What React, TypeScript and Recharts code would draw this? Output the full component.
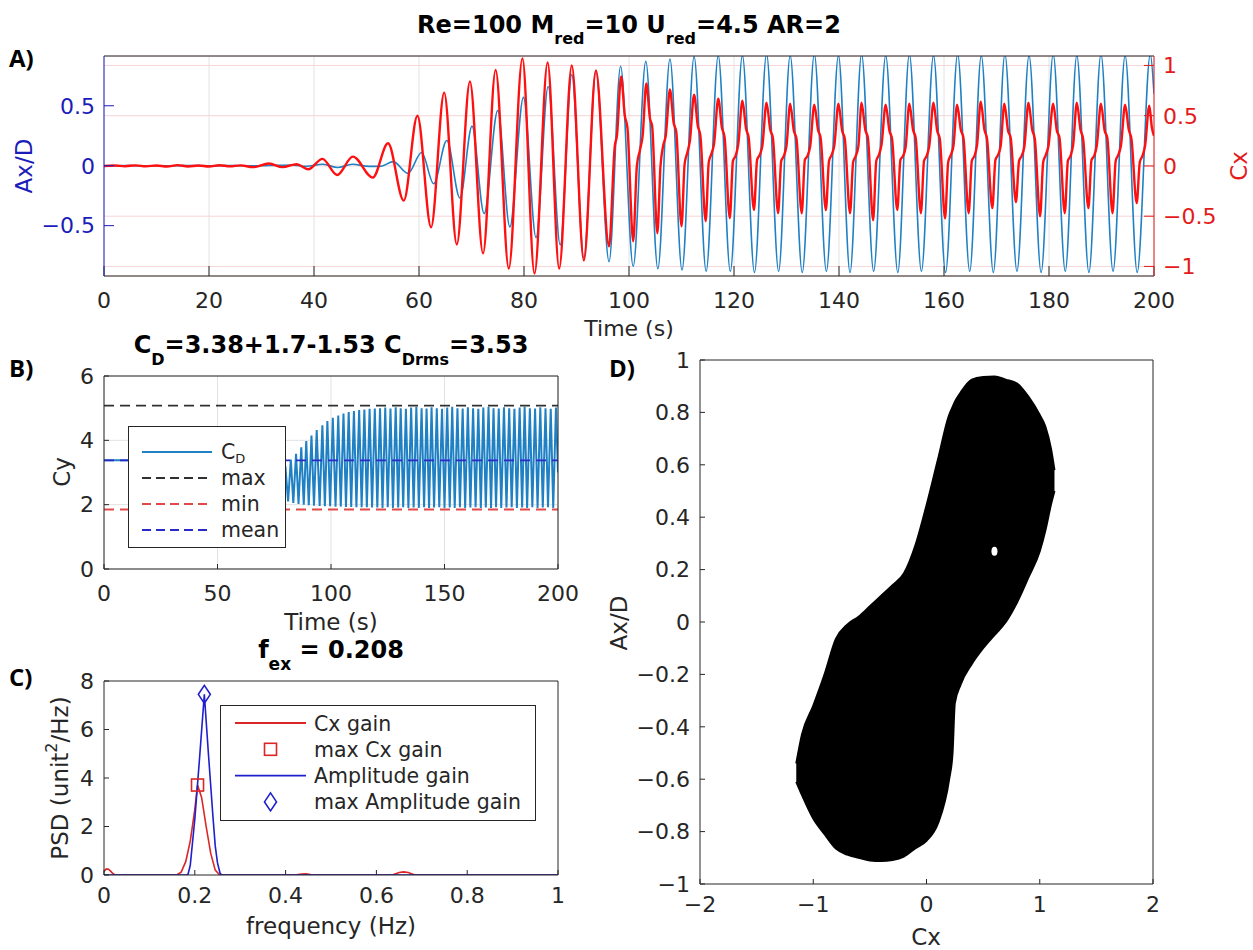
import React from 'react';
import {
  ComposedChart,
  Line,
  Area,
  Scatter,
  XAxis,
  YAxis,
  CartesianGrid,
  Legend,
} from 'recharts';

// ---------------- fonts & colours ----------------
const FONT = '"DejaVu Sans", sans-serif';
const LABEL_FONT = '"Open Sans", "DejaVu Sans", sans-serif';
const INK = '#262626';
const BLUE_LINE = '#1f80c4';
const RED_LINE = '#ff1010';
const AX_BLUE = '#1c1cb8';
const CX_RED = '#e41b1b';
const GRID = '#e2e2e2';
const PINK = '#f6d4d4';
const CX_GAIN = '#dc2626';
const AMP_GAIN = '#1f1fcc';
const MAX_C = '#303030';
const MIN_C = '#e24848';
const MEAN_C = '#2a2ac8';

// ---------------- Panel A data ----------------
const timeTicksA = [0, 20, 40, 60, 80, 100, 120, 140, 160, 180, 200];
const axTicksA = [-0.5, 0, 0.5];
const cxTicksA = [-1, -0.5, 0, 0.5, 1];

// Ax/D (time, value) read at extremes
const axDisplacement: [number, number][] = [
  [0, 0], [5, 0.001], [10, -0.001], [15, 0.001], [20, 0], [25, 0.001], [30, -0.001], [33, 0.003],
  [36, 0.005], [38.5, -0.005], [41.7, 0.012], [44.5, -0.015], [47.3, 0.012], [50.5, -0.006],
  [52.8, -0.004], [55.1, 0.034], [57.9, -0.064], [60.5, 0.11], [62.8, -0.15], [65.3, 0.21],
  [67.8, -0.27], [70.1, 0.33], [72.4, -0.4], [75.0, 0.46], [77.3, -0.51], [79.9, 0.57],
  [82.3, -0.6], [84.6, 0.66], [86.9, -0.66], [89.1, 0.76], [91.4, -0.77], [93.7, 0.79],
  [96.2, -0.8], [98.4, 0.83], [100.8, -0.84], [103.2, 0.87], [105.5, -0.86], [107.8, 0.89],
  [110.1, -0.87], [112.4, 0.91], [114.7, -0.88], [117.0, 0.92], [119.3, -0.88], [121.6, 0.92],
  [123.9, -0.89], [126.2, 0.93], [128.5, -0.88], [130.7, 0.92], [133.0, -0.89], [135.3, 0.93],
  [137.6, -0.88], [139.9, 0.92], [142.1, -0.89], [144.3, 0.93], [146.6, -0.88], [148.9, 0.92],
  [151.2, -0.89], [153.4, 0.93], [155.7, -0.88], [158.0, 0.92], [160.3, -0.89], [162.6, 0.93],
  [164.9, -0.88], [167.1, 0.92], [169.4, -0.89], [171.6, 0.93], [173.9, -0.88], [176.2, 0.92],
  [178.5, -0.89], [180.8, 0.93], [183.1, -0.88], [185.3, 0.92], [187.6, -0.89], [189.9, 0.93],
  [192.2, -0.88], [194.5, 0.92], [196.8, -0.89], [199.3, 0.93], [200, 0.6],
];

// Cx (time, value) read at extremes and shoulders
const cxForce: [number, number][] = [
  [0, 0], [2, 0.004], [4, -0.003], [6, 0.006], [8, -0.004], [10, 0.005], [12, -0.006], [14, 0.008],
  [16, -0.005], [18, 0.004], [20, -0.006], [22, 0.007], [24, -0.004], [26, 0.006], [28.4, -0.012],
  [31.4, 0.025], [34, -0.012], [36.7, 0.017], [38.9, -0.033], [41.6, 0.07], [44.4, -0.09],
  [47.4, 0.093], [51.2, -0.116], [54.1, 0.226], [57.1, -0.345], [59.7, 0.5], [62.3, -0.61],
  [64.8, 0.73], [67.2, -0.78], [69.7, 0.84], [72.2, -0.87], [74.6, 0.955], [77.1, -1.02],
  [79.7, 1.07], [82.0, -1.07], [84.5, 1.03], [86.7, -1.02], [89.1, 1.0], [91.4, -0.94],
  [93.7, 0.95], [96.2, -0.8], [97.3, 0.2], [97.7, 0.3],
  [98.5, 0.89], [99.2, 0.5], [99.7, 0.38], [100.8, -0.75], [101.5, 0.0], [102.1, 0.16], [102.6, 0.3],
  [103.3, 0.82], [104.0, 0.47], [104.4, 0.4], [105.4, -0.67], [106.0, 0.0], [106.5, 0.2], [107.0, 0.3],
  [107.8, 0.76], [108.5, 0.43], [109.0, 0.34], [110.0, -0.6], [110.6, 0.02], [111.1, 0.13], [111.6, 0.25],
  [112.4, 0.71], [113.1, 0.4], [113.6, 0.3], [114.6, -0.55], [115.2, 0.04], [115.7, 0.12], [116.2, 0.22],
  [117.0, 0.67], [117.7, 0.38], [118.2, 0.29], [119.2, -0.52], [119.8, 0.05], [120.3, 0.1], [120.8, 0.21],
  [121.6, 0.65], [122.3, 0.37], [122.8, 0.28], [123.8, -0.44], [124.4, 0.06], [124.9, 0.11], [125.4, 0.2],
  [126.2, 0.63], [126.9, 0.36], [127.4, 0.28], [128.4, -0.47], [129.0, 0.05], [129.5, 0.1], [130.0, 0.2],
  [130.7, 0.62], [131.4, 0.35], [131.9, 0.27], [132.9, -0.47], [133.5, 0.06], [134.0, 0.1], [134.5, 0.19],
  [135.3, 0.61], [136.0, 0.36], [136.5, 0.28], [137.5, -0.44], [138.1, 0.05], [138.6, 0.11], [139.1, 0.2],
  [139.9, 0.62], [140.6, 0.35], [141.1, 0.27], [142.1, -0.47], [142.7, 0.04], [143.2, 0.1], [143.7, 0.2],
  [144.3, 0.63], [145.0, 0.36], [145.5, 0.28], [146.5, -0.54], [147.1, 0.05], [147.6, 0.11], [148.1, 0.21],
  [148.9, 0.61], [149.6, 0.35], [150.1, 0.27], [151.1, -0.44], [151.7, 0.06], [152.2, 0.1], [152.7, 0.19],
  [153.4, 0.62], [154.1, 0.36], [154.6, 0.28], [155.6, -0.47], [156.2, 0.05], [156.7, 0.1], [157.2, 0.2],
  [158.0, 0.63], [158.7, 0.35], [159.2, 0.27], [160.2, -0.52], [160.8, 0.04], [161.3, 0.11], [161.8, 0.2],
  [162.5, 0.61], [163.2, 0.36], [163.7, 0.28], [164.7, -0.47], [165.3, 0.05], [165.8, 0.1], [166.3, 0.21],
  [167.0, 0.64], [167.7, 0.36], [168.2, 0.27], [169.2, -0.42], [169.8, 0.06], [170.3, 0.11], [170.8, 0.2],
  [171.5, 0.62], [172.2, 0.35], [172.7, 0.28], [173.7, -0.36], [174.3, 0.05], [174.8, 0.1], [175.3, 0.19],
  [176.1, 0.63], [176.8, 0.36], [177.3, 0.27], [178.3, -0.5], [178.9, 0.04], [179.4, 0.11], [179.9, 0.2],
  [180.8, 0.62], [181.5, 0.35], [182.0, 0.28], [183.0, -0.47], [183.6, 0.05], [184.1, 0.1], [184.6, 0.21],
  [185.3, 0.63], [186.0, 0.36], [186.5, 0.27], [187.5, -0.42], [188.1, 0.06], [188.6, 0.1], [189.1, 0.2],
  [189.9, 0.62], [190.6, 0.35], [191.1, 0.28], [192.1, -0.47], [192.7, 0.05], [193.2, 0.11], [193.7, 0.2],
  [194.5, 0.61], [195.2, 0.36], [195.7, 0.27], [196.7, -0.37], [197.3, 0.04], [197.8, 0.1], [198.3, 0.2],
  [199.1, 0.6], [199.6, 0.38], [200, 0.3],
];

// ---------------- Panel B data ----------------
const timeTicksB = [0, 50, 100, 150, 200];
const cyTicksB = [0, 2, 4, 6];
const cdMax = 5.08;
const cdMin = 1.85;
const cdMean = 3.38;
const cdSignal: [number, number][] = [
  [0, 3.38], [10, 3.38], [20, 3.37], [30, 3.38], [40, 3.36], [50, 3.3], [55, 3.2], [60, 3.0],
  [65, 2.85], [70, 2.75], [75, 2.7], [78.8, 2.7],
  [79.9, 3.2], [81.1, 2.1], [82.3, 3.4], [83.4, 2.05], [84.6, 3.58], [85.7, 2.02], [86.9, 3.78],
  [88.0, 2.0], [89.1, 3.98], [90.2, 1.98], [91.4, 4.15], [92.5, 1.97], [93.7, 4.32], [95.0, 1.96],
  [96.2, 4.47], [97.3, 1.95], [98.4, 4.6], [99.6, 1.95], [100.8, 4.7], [102.0, 1.94], [103.2, 4.77],
  [104.3, 1.94], [105.5, 4.83], [106.6, 1.93], [107.8, 4.88], [108.9, 1.93], [110.1, 4.91],
  [111.2, 1.92], [112.4, 4.94], [113.5, 1.92], [114.7, 4.96], [115.8, 1.92], [117.0, 4.98],
  [118.1, 1.91], [119.3, 4.99], [120.4, 1.91], [121.6, 5.0], [122.7, 1.9], [123.9, 5.02],
  [125.0, 1.92], [126.2, 4.99], [127.3, 1.9], [128.5, 5.03], [129.6, 1.91], [130.7, 5.0],
  [131.8, 1.92], [133.0, 4.98], [134.1, 1.9], [135.3, 5.02], [136.4, 1.91], [137.6, 5.04],
  [138.7, 1.9], [139.9, 5.0], [141.0, 1.92], [142.1, 4.99], [143.2, 1.9], [144.3, 5.03],
  [145.4, 1.91], [146.6, 5.0], [147.7, 1.92], [148.9, 4.98], [150.0, 1.9], [151.2, 5.02],
  [152.3, 1.91], [153.4, 5.04], [154.5, 1.9], [155.7, 5.0], [156.8, 1.92], [158.0, 4.99],
  [159.1, 1.9], [160.3, 5.03], [161.4, 1.91], [162.6, 5.0], [163.7, 1.92], [164.9, 4.98],
  [166.0, 1.9], [167.1, 5.02], [168.2, 1.91], [169.4, 5.04], [170.5, 1.9], [171.6, 5.0],
  [172.7, 1.92], [173.9, 4.99], [175.0, 1.9], [176.2, 5.03], [177.3, 1.91], [178.5, 5.0],
  [179.6, 1.92], [180.8, 4.98], [181.9, 1.9], [183.1, 5.02], [184.2, 1.91], [185.3, 5.04],
  [186.4, 1.9], [187.6, 5.0], [188.7, 1.92], [189.9, 4.99], [191.0, 1.9], [192.2, 5.03],
  [193.3, 1.91], [194.5, 5.0], [195.6, 1.92], [196.8, 4.98], [197.9, 1.9], [199.1, 5.02], [200, 3.0],
];

// ---------------- Panel C data ----------------
const freqTicks = [0, 0.2, 0.4, 0.6, 0.8, 1];
const psdTicks = [0, 2, 4, 6, 8];
const cxGainPsd: [number, number][] = [
  [0, 0.15], [0.005, 0.25], [0.01, 0.24], [0.015, 0.15], [0.02, 0.05], [0.025, 0], [0.16, 0],
  [0.17, 0.12], [0.18, 0.55], [0.19, 1.4], [0.2, 2.7], [0.206, 3.71], [0.215, 3.2], [0.225, 2.0],
  [0.235, 0.9], [0.245, 0.2], [0.255, 0], [0.42, 0], [0.435, 0.04], [0.445, 0.05], [0.46, 0],
  [0.635, 0], [0.65, 0.1], [0.66, 0.13], [0.67, 0.1], [0.685, 0], [1, 0],
];
const ampGainPsd: [number, number][] = [
  [0, 0], [0.18, 0], [0.185, 0.02], [0.19, 0.4], [0.2, 2.3], [0.21, 4.7], [0.221, 7.45],
  [0.23, 5.0], [0.24, 2.4], [0.245, 1.2], [0.25, 0.5], [0.256, 0.05], [0.26, 0], [1, 0],
];
const maxCxGain: [number, number] = [0.206, 3.71];
const maxAmpGain: [number, number] = [0.221, 7.45];

// ---------------- Panel D data ----------------
const cxTicksD = [-2, -1, 0, 1, 2];
const axTicksD = [-1, -0.8, -0.6, -0.4, -0.2, 0, 0.2, 0.4, 0.6, 0.8, 1];
// phase portrait band: Cx, lowest Ax, highest Ax covered by the markers
const phaseBand: [number, number, number][] = [
  [-1.15, -0.61, -0.54], [-1.1, -0.66, -0.43], [-1.0, -0.75, -0.32], [-0.9, -0.81, -0.2],
  [-0.8, -0.865, -0.065], [-0.7, -0.888, -0.01], [-0.6, -0.9, 0.02], [-0.5, -0.91, 0.06],
  [-0.4, -0.912, 0.1], [-0.3, -0.908, 0.14], [-0.2, -0.895, 0.185], [-0.1, -0.864, 0.29],
  [0, -0.835, 0.445], [0.1, -0.77, 0.618], [0.2, -0.6, 0.79], [0.23, -0.5, 0.82],
  [0.25, -0.31, 0.84], [0.3, -0.24, 0.875], [0.4, -0.16, 0.925], [0.5, -0.1, 0.935],
  [0.6, -0.05, 0.937], [0.7, 0.0, 0.925], [0.8, 0.075, 0.91], [0.9, 0.17, 0.86],
  [1.0, 0.27, 0.79], [1.05, 0.35, 0.745], [1.1, 0.45, 0.66], [1.13, 0.5, 0.58],
];
const phaseGap: [number, number][] = [[0.6, 0.27]];

// ---------------- helpers ----------------
const fmt = (v: number) => String(v).replace('-', '\u2212');
const tickStyle = (fill: string) => ({ fontSize: 22, fill, fontFamily: FONT });

const axData = axDisplacement.map(([t, v]) => ({ t, v }));
const cxData = cxForce.map(([t, v]) => ({ t, v }));
const cdData = cdSignal.map(([t, v]) => ({ t, v }));
const flat = (v: number) => [{ t: 0, v }, { t: 200, v }];
const cxPsdData = cxGainPsd.map(([f, p]) => ({ f, p }));
const ampPsdData = ampGainPsd.map(([f, p]) => ({ f, p }));
const bandData = phaseBand.map(([cx, lo, hi]) => ({ cx, range: [lo, hi] }));
const gapData = phaseGap.map(([cx, ax]) => ({ cx, ax }));

const cdLegendItems = [
  { key: 'cd', label: 'C', sub: 'D', color: BLUE_LINE, dash: undefined as string | undefined },
  { key: 'max', label: 'max', sub: '', color: MAX_C, dash: '9 5' },
  { key: 'min', label: 'min', sub: '', color: MIN_C, dash: '9 5' },
  { key: 'mean', label: 'mean', sub: '', color: MEAN_C, dash: '9 5' },
];

const psdLegendItems = [
  { key: 'cxg', label: 'Cx gain', color: CX_GAIN, kind: 'line' },
  { key: 'mcx', label: 'max Cx gain', color: CX_GAIN, kind: 'square' },
  { key: 'amp', label: 'Amplitude gain', color: AMP_GAIN, kind: 'line' },
  { key: 'mamp', label: 'max Amplitude gain', color: AMP_GAIN, kind: 'diamond' },
];

const LegendB = () => (
  <svg width={158} height={122} style={{ display: 'block' }}>
    <rect x={0.5} y={0.5} width={157} height={121} fill="#fff" stroke={INK} strokeWidth={1} />
    {cdLegendItems.map((it, i) => {
      const y = 26 + i * 26;
      return (
        <g key={it.key}>
          <line x1={14} x2={84} y1={y} y2={y} stroke={it.color} strokeWidth={2} strokeDasharray={it.dash} />
          <text x={93} y={y + 7} fontSize={20.5} fontFamily={FONT} fill={INK}>
            {it.label}
            {it.sub ? (
              <tspan fontSize={13} dy={4}>
                {it.sub}
              </tspan>
            ) : null}
          </text>
        </g>
      );
    })}
  </svg>
);

const LegendC = () => (
  <svg width={316} height={116} style={{ display: 'block' }}>
    <rect x={0.5} y={0.5} width={315} height={115} fill="#fff" stroke={INK} strokeWidth={1} />
    {psdLegendItems.map((it, i) => {
      const y = 18 + i * 26.3;
      return (
        <g key={it.key}>
          {it.kind === 'line' && <line x1={15} x2={86} y1={y} y2={y} stroke={it.color} strokeWidth={1.8} />}
          {it.kind === 'square' && (
            <rect x={44.5} y={y - 6} width={12} height={12} fill="none" stroke={it.color} strokeWidth={1.6} />
          )}
          {it.kind === 'diamond' && (
            <polygon
              points={`50.5,${y - 9} 56.5,${y} 50.5,${y + 9} 44.5,${y}`}
              fill="none"
              stroke={it.color}
              strokeWidth={1.6}
            />
          )}
          <text x={94} y={y + 7.5} fontSize={20.5} fontFamily={FONT} fill={INK}>
            {it.label}
          </text>
        </g>
      );
    })}
  </svg>
);

const SquareMark = (p: any) => (
  <rect x={p.cx - 6} y={p.cy - 6} width={12} height={12} fill="none" stroke={CX_GAIN} strokeWidth={1.6} />
);
const DiamondMark = (p: any) => (
  <polygon
    points={`${p.cx},${p.cy - 9} ${p.cx + 6},${p.cy} ${p.cx},${p.cy + 9} ${p.cx - 6},${p.cy}`}
    fill="none"
    stroke={AMP_GAIN}
    strokeWidth={1.6}
  />
);
const GapMark = (p: any) => <ellipse cx={p.cx} cy={p.cy} rx={3} ry={4.5} fill="#fff" />;

// ---------------- Panels ----------------
const PanelA = () => (
  <ComposedChart width={1253} height={340} margin={{ top: 55, right: 0, bottom: 0, left: 0 }}>
    <CartesianGrid xAxisId="t" yAxisId="ax" horizontal={false} stroke={GRID} />
    <CartesianGrid xAxisId="t" yAxisId="cx" vertical={false} stroke={PINK} />
    <XAxis
      xAxisId="t"
      dataKey="t"
      type="number"
      domain={[0, 200]}
      ticks={timeTicksA}
      interval={0}
      allowDataOverflow
      height={64}
      tickSize={-10}
      tickMargin={26}
      tick={tickStyle(INK)}
      axisLine={{ stroke: INK }}
      tickLine={{ stroke: INK }}
    />
    <XAxis
      xAxisId="top"
      orientation="top"
      type="number"
      domain={[0, 200]}
      ticks={timeTicksA}
      interval={0}
      allowDataOverflow
      height={1}
      tickSize={-10}
      tick={false}
      axisLine={{ stroke: INK }}
      tickLine={{ stroke: INK }}
    />
    <YAxis
      yAxisId="ax"
      type="number"
      domain={[-0.92, 0.915]}
      ticks={axTicksA}
      interval={0}
      allowDataOverflow
      width={104}
      tickSize={-10}
      tickMargin={19}
      tick={tickStyle(AX_BLUE)}
      tickFormatter={fmt}
      axisLine={{ stroke: AX_BLUE }}
      tickLine={{ stroke: AX_BLUE }}
    />
    <YAxis
      yAxisId="cx"
      orientation="right"
      type="number"
      domain={[-1.095, 1.094]}
      ticks={cxTicksA}
      interval={0}
      allowDataOverflow
      width={99}
      tickSize={-10}
      tickMargin={19}
      tick={tickStyle(CX_RED)}
      tickFormatter={fmt}
      axisLine={{ stroke: CX_RED }}
      tickLine={{ stroke: CX_RED }}
    />
    <Line
      xAxisId="t"
      yAxisId="ax"
      data={axData}
      dataKey="v"
      type="monotone"
      stroke={BLUE_LINE}
      strokeWidth={1.6}
      dot={false}
      isAnimationActive={false}
    />
    <Line
      xAxisId="t"
      yAxisId="cx"
      data={cxData}
      dataKey="v"
      type="monotone"
      stroke={RED_LINE}
      strokeWidth={2.4}
      dot={false}
      isAnimationActive={false}
    />
  </ComposedChart>
);

const PanelB = () => (
  <ComposedChart width={600} height={310} margin={{ top: 45, right: 41, bottom: 0, left: 0 }}>
    <CartesianGrid stroke={GRID} />
    <XAxis
      dataKey="t"
      type="number"
      domain={[0, 200]}
      ticks={timeTicksB}
      interval={0}
      allowDataOverflow
      height={71}
      tickSize={-5}
      tickMargin={21}
      tick={tickStyle(INK)}
      axisLine={{ stroke: INK }}
      tickLine={{ stroke: INK }}
    />
    <XAxis
      xAxisId="top"
      orientation="top"
      type="number"
      domain={[0, 200]}
      ticks={timeTicksB}
      interval={0}
      allowDataOverflow
      height={1}
      tickSize={-5}
      tick={false}
      axisLine={{ stroke: INK }}
      tickLine={{ stroke: INK }}
    />
    <YAxis
      type="number"
      domain={[0, 6]}
      ticks={cyTicksB}
      interval={0}
      allowDataOverflow
      width={104}
      tickSize={-5}
      tickMargin={15}
      tick={tickStyle(INK)}
      axisLine={{ stroke: INK }}
      tickLine={{ stroke: INK }}
    />
    <YAxis
      yAxisId="right"
      orientation="right"
      type="number"
      domain={[0, 6]}
      ticks={cyTicksB}
      interval={0}
      allowDataOverflow
      width={1}
      tickSize={-5}
      tick={false}
      axisLine={{ stroke: INK }}
      tickLine={{ stroke: INK }}
    />
    <Line data={cdData} dataKey="v" type="linear" stroke={BLUE_LINE} strokeWidth={2} dot={false} isAnimationActive={false} />
    <Line data={flat(cdMax)} dataKey="v" stroke={MAX_C} strokeWidth={1.8} strokeDasharray="10 6" dot={false} isAnimationActive={false} />
    <Line data={flat(cdMin)} dataKey="v" stroke={MIN_C} strokeWidth={1.8} strokeDasharray="10 6" dot={false} isAnimationActive={false} />
    <Line data={flat(cdMean)} dataKey="v" stroke={MEAN_C} strokeWidth={1.8} strokeDasharray="10 6" dot={false} isAnimationActive={false} />
    <Legend
      verticalAlign="middle"
      align="center"
      layout="horizontal"
      content={() => <LegendB />}
      wrapperStyle={{ left: 128, top: 96, width: 158, height: 122 }}
    />
  </ComposedChart>
);

const PanelC = () => (
  <ComposedChart width={600} height={310} margin={{ top: 40, right: 41, bottom: 0, left: 0 }}>
    <XAxis
      dataKey="f"
      type="number"
      domain={[0, 1]}
      ticks={freqTicks}
      interval={0}
      allowDataOverflow
      height={75}
      tickSize={-5}
      tickMargin={17}
      tick={tickStyle(INK)}
      axisLine={{ stroke: INK }}
      tickLine={{ stroke: INK }}
    />
    <XAxis
      xAxisId="top"
      orientation="top"
      type="number"
      domain={[0, 1]}
      ticks={freqTicks}
      interval={0}
      allowDataOverflow
      height={1}
      tickSize={-5}
      tick={false}
      axisLine={{ stroke: INK }}
      tickLine={{ stroke: INK }}
    />
    <YAxis
      dataKey="p"
      type="number"
      domain={[0, 8]}
      ticks={psdTicks}
      interval={0}
      allowDataOverflow
      width={104}
      tickSize={-5}
      tickMargin={15}
      tick={tickStyle(INK)}
      axisLine={{ stroke: INK }}
      tickLine={{ stroke: INK }}
    />
    <YAxis
      yAxisId="right"
      orientation="right"
      type="number"
      domain={[0, 8]}
      ticks={psdTicks}
      interval={0}
      allowDataOverflow
      width={1}
      tickSize={-5}
      tick={false}
      axisLine={{ stroke: INK }}
      tickLine={{ stroke: INK }}
    />
    <Line data={cxPsdData} dataKey="p" type="linear" stroke={CX_GAIN} strokeWidth={1.6} dot={false} isAnimationActive={false} />
    <Line data={ampPsdData} dataKey="p" type="linear" stroke={AMP_GAIN} strokeWidth={1.6} dot={false} isAnimationActive={false} />
    <Scatter data={[{ f: maxCxGain[0], p: maxCxGain[1] }]} shape={SquareMark} isAnimationActive={false} />
    <Scatter data={[{ f: maxAmpGain[0], p: maxAmpGain[1] }]} shape={DiamondMark} isAnimationActive={false} />
    <Legend
      verticalAlign="middle"
      align="center"
      layout="horizontal"
      content={() => <LegendC />}
      wrapperStyle={{ left: 220, top: 65, width: 316, height: 116 }}
    />
  </ComposedChart>
);

const PanelD = () => (
  <ComposedChart width={653} height={620} data={bandData} margin={{ top: 29, right: 99, bottom: 0, left: 0 }}>
    <XAxis
      dataKey="cx"
      type="number"
      domain={[-2, 2]}
      ticks={cxTicksD}
      interval={0}
      allowDataOverflow
      height={66}
      tickSize={-5}
      tickMargin={17}
      tick={tickStyle(INK)}
      tickFormatter={fmt}
      axisLine={{ stroke: INK }}
      tickLine={{ stroke: INK }}
    />
    <XAxis
      xAxisId="top"
      orientation="top"
      type="number"
      domain={[-2, 2]}
      ticks={cxTicksD}
      interval={0}
      allowDataOverflow
      height={1}
      tickSize={-5}
      tick={false}
      axisLine={{ stroke: INK }}
      tickLine={{ stroke: INK }}
    />
    <YAxis
      dataKey="ax"
      type="number"
      domain={[-1, 1]}
      ticks={axTicksD}
      interval={0}
      allowDataOverflow
      width={100}
      tickSize={-5}
      tickMargin={15}
      tick={tickStyle(INK)}
      tickFormatter={fmt}
      axisLine={{ stroke: INK }}
      tickLine={{ stroke: INK }}
    />
    <YAxis
      yAxisId="right"
      orientation="right"
      type="number"
      domain={[-1, 1]}
      ticks={axTicksD}
      interval={0}
      allowDataOverflow
      width={1}
      tickSize={-5}
      tick={false}
      axisLine={{ stroke: INK }}
      tickLine={{ stroke: INK }}
    />
    <Area
      dataKey="range"
      type="monotone"
      fill="#000"
      fillOpacity={1}
      stroke="#000"
      strokeWidth={2}
      dot={false}
      activeDot={false}
      isAnimationActive={false}
    />
    <Scatter data={gapData} shape={GapMark} isAnimationActive={false} />
  </ComposedChart>
);

// ---------------- text overlay (titles, panel letters, axis titles) ----------------
const Overlay = () => (
  <svg
    width={1253}
    height={950}
    style={{ position: 'absolute', left: 0, top: 0, pointerEvents: 'none' }}
  >
    <g fontFamily={LABEL_FONT} fontWeight={700} fontSize={24} fill="#000">
      <text x={9} y={67}>A)</text>
      <text x={9} y={377}>B)</text>
      <text x={9} y={686}>C)</text>
      <text x={609} y={377}>D)</text>
    </g>
    <g fontFamily={FONT} fontWeight={700} fontSize={24} fill="#000" textAnchor="middle">
      <text x={629} y={33}>
        Re=100 M<tspan fontSize={16} dy={11}>red</tspan>
        <tspan dy={-11}>=10 U</tspan>
        <tspan fontSize={16} dy={11}>red</tspan>
        <tspan dy={-11}>=4.5 AR=2</tspan>
      </text>
      <text x={331} y={353}>
        C<tspan fontSize={16} dy={12}>D</tspan>
        <tspan dy={-12}>=3.38+1.7-1.53 C</tspan>
        <tspan fontSize={16} dy={12}>Drms</tspan>
        <tspan dy={-12}>=3.53</tspan>
      </text>
      <text x={331} y={658}>
        f<tspan fontSize={17} dy={12}>ex</tspan>
        <tspan dy={-12}> = 0.208</tspan>
      </text>
    </g>
    <g fontFamily={FONT} fontSize={23} textAnchor="middle">
      <text x={629} y={336} fontSize={22} fill={INK}>Time (s)</text>
      <text x={24} y={166} fill={AX_BLUE} dominantBaseline="central" transform="rotate(-90 24 166)">Ax/D</text>
      <text x={1239} y={166} fill={CX_RED} dominantBaseline="central" transform="rotate(-90 1239 166)">Cx</text>
      <text x={331} y={630} fill={INK}>Time (s)</text>
      <text x={62} y={472} fill={INK} dominantBaseline="central" transform="rotate(-90 62 472)">Cy</text>
      <text x={331} y={934} fill={INK}>frequency (Hz)</text>
      <text x={60} y={778} fill={INK} dominantBaseline="central" transform="rotate(-90 60 778)">
        PSD (unit<tspan fontSize={16} dy={-9}>2</tspan>
        <tspan dy={9}>/Hz)</tspan>
      </text>
      <text x={926} y={945} fill={INK}>Cx</text>
      <text x={619} y={623} fill={INK} dominantBaseline="central" transform="rotate(-90 619 623)">Ax/D</text>
    </g>
  </svg>
);

export default function App() {
  return (
    <div style={{ position: 'absolute', left: 0, top: 0, width: 1253, height: 950, background: '#fff', overflow: 'hidden' }}>
      <div style={{ position: 'absolute', left: 0, top: 0 }}>
        <PanelA />
      </div>
      <div style={{ position: 'absolute', left: 0, top: 330 }}>
        <PanelB />
      </div>
      <div style={{ position: 'absolute', left: 0, top: 640 }}>
        <PanelC />
      </div>
      <div style={{ position: 'absolute', left: 600, top: 330 }}>
        <PanelD />
      </div>
      <Overlay />
    </div>
  );
}
